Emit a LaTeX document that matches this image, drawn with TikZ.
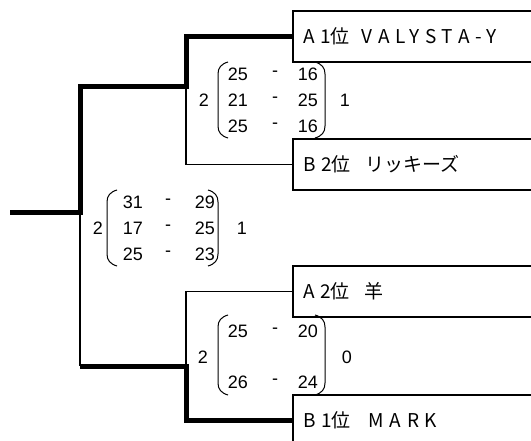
\documentclass[tikz,border=0pt]{standalone}
\usepackage{fontspec}
\setmainfont{Liberation Sans}
\newfontfamily\lbl{Noto Sans CJK JP}
\newfontfamily\lblsp[LetterSpace=30]{Noto Sans CJK JP}
\begin{document}
\begin{tikzpicture}[x=1pt,y=-1pt,
  thickl/.style={line width=5pt},
  thinl/.style={line width=1.3pt},
  teambox/.style={draw, line width=2pt, anchor=north west, minimum width=270pt, minimum height=51pt, inner xsep=7pt, inner ysep=0pt, text width=250pt, align=left, font=\fontsize{19}{19}\selectfont},
  score/.style={font=\fontsize{18}{18}\selectfont, inner sep=0pt},
  paren/.style={line width=1pt}]
\useasboundingbox (0,0) rectangle (531,441);
\clip (0,0) rectangle (531,441);
% team boxes
\node[teambox] (a1) at (292,10) {{\lblsp A1}{\lbl 位}\hspace{12pt}{\lblsp VALYSTA-Y}};
\node[teambox] (b2) at (292,138) {{\lblsp B2}{\lbl 位}\hspace{15pt}{\lbl リッキーズ}};
\node[teambox] (a2) at (292,265) {{\lblsp A2}{\lbl 位}\hspace{15pt}{\lbl 羊}};
\node[teambox] (b1) at (292,394) {{\lblsp B1}{\lbl 位}\hspace{18pt}{\lblsp MARK}};
% junctions
\coordinate (r) at (10,213);
\coordinate (f) at (80,213);
\coordinate (f2) at (80,366);
\coordinate (s1) at (186,87);
\coordinate (s2) at (186,366);
% connectors
\draw[thickl] (r) -- (f) |- (s1) |- (a1.west);
\draw[thinl] (s1) |- (b2.west);
\draw[thinl] (f) -- (f2);
\draw[thickl] (f2) -- (s2) |- (b1.west);
\draw[thinl] (s2) |- (a2.west);
% upper match score
\node[score] (u2) at (204,100) {2};
\node[score] (u1) at (345,100) {1};
\node[score] (ua1) at (238,74) {25};
\node[score] (ud1) at (275,74) {-};
\node[score] (ub1) at (308,74) {16};
\node[score] (ua2) at (238,100) {21};
\node[score] (ud2) at (275,100) {-};
\node[score] (ub2) at (308,100) {25};
\node[score] (ua3) at (238,126) {25};
\node[score] (ud3) at (275,126) {-};
\node[score] (ub3) at (308,126) {16};
\draw[paren] (228,62) .. controls (221,64) and (218,68) .. (218,74) -- (218,126) .. controls (218,132) and (221,136) .. (228,138);
\draw[paren] (315,62) .. controls (322,64) and (325,68) .. (325,74) -- (325,126) .. controls (325,132) and (322,136) .. (315,138);
% final score
\node[score] (m2) at (98,228) {2};
\node[score] (m1) at (242,228) {1};
\node[score] (ma1) at (133,202) {31};
\node[score] (md1) at (168,202) {-};
\node[score] (mb1) at (205,202) {29};
\node[score] (ma2) at (133,228) {17};
\node[score] (md2) at (168,228) {-};
\node[score] (mb2) at (205,228) {25};
\node[score] (ma3) at (133,254) {25};
\node[score] (md3) at (168,254) {-};
\node[score] (mb3) at (205,254) {23};
\draw[paren] (117,190) .. controls (110,192) and (107,196) .. (107,202) -- (107,254) .. controls (107,260) and (110,264) .. (117,266);
\draw[paren] (208,190) .. controls (215,192) and (218,196) .. (218,202) -- (218,254) .. controls (218,260) and (215,264) .. (208,266);
% lower match score
\node[score] (l2) at (203,357) {2};
\node[score] (l0) at (347,357) {0};
\node[score] (la1) at (238,331) {25};
\node[score] (ld1) at (275,331) {-};
\node[score] (lb1) at (308,331) {20};
\node[score] (la2) at (238,382) {26};
\node[score] (ld2) at (275,382) {-};
\node[score] (lb2) at (308,382) {24};
\draw[paren] (228,315) .. controls (221,317) and (218,321) .. (218,327) -- (218,383) .. controls (218,389) and (221,393) .. (228,395);
\draw[paren] (315,315) .. controls (322,317) and (325,321) .. (325,327) -- (325,383) .. controls (325,389) and (322,393) .. (315,395);
\end{tikzpicture}
\end{document}
